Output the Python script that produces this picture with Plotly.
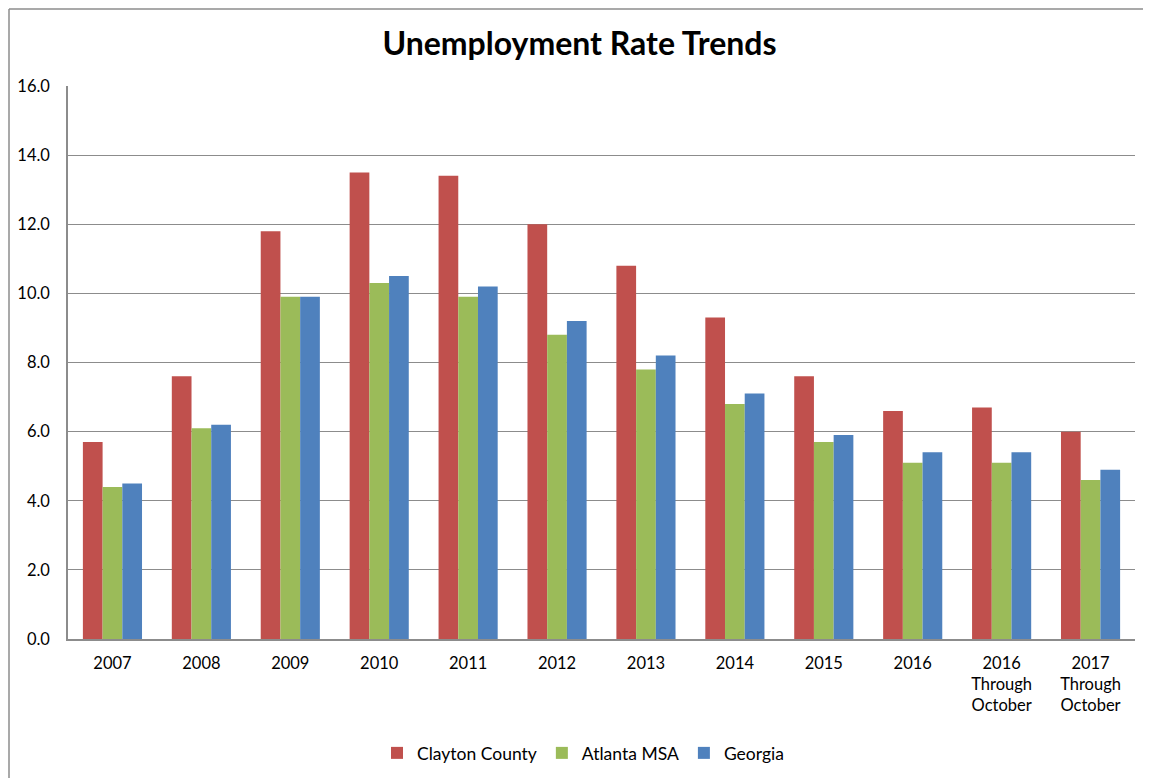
import plotly.graph_objects as go

categories = ["2007", "2008", "2009", "2010", "2011", "2012", "2013", "2014", "2015", "2016",
              "2016<br>Through<br>October", "2017<br>Through<br>October"]
clayton = [5.7, 7.6, 11.8, 13.5, 13.4, 12.0, 10.8, 9.3, 7.6, 6.6, 6.7, 6.0]
atlanta = [4.4, 6.1, 9.9, 10.3, 9.9, 8.8, 7.8, 6.8, 5.7, 5.1, 5.1, 4.6]
georgia = [4.5, 6.2, 9.9, 10.5, 10.2, 9.2, 8.2, 7.1, 5.9, 5.4, 5.4, 4.9]

series = [("Clayton County", clayton, "#C0504D"),
          ("Atlanta MSA", atlanta, "#9BBB59"),
          ("Georgia", georgia, "#4F81BD")]

# page body adds an 8px offset; figure sized to fit the window
OFF = 8
W, H = 1151 - OFF, 778 - OFF
ml, mt = 68 - OFF, 86 - OFF
mr = W - (1135 - OFF)
mb = H - (639 - OFF)

fig = go.Figure()
for name, vals, col in series:
    fig.add_trace(go.Bar(x=categories, y=vals, name=name, marker_color=col, marker_line_width=0))

font = "Lato, Open Sans, sans-serif"
pw, ph = W - ml - mr, H - mt - mb
bx0 = (1 - ml) / pw
bx1 = (W - ml) / pw
by0 = -(H - mt - ph) / ph
by1 = 1 + (mt - 1) / ph
border = dict(color="#8c8c8c", width=1.5)
fig.add_shape(type="line", xref="paper", yref="paper", x0=bx0, x1=bx1, y0=by1, y1=by1,
              line=border, layer="below")
fig.add_shape(type="line", xref="paper", yref="paper", x0=bx0, x1=bx0, y0=by0, y1=by1,
              line=border, layer="below")

fig.update_layout(
    width=W, height=H,
    margin=dict(l=ml, r=mr, t=mt, b=mb, autoexpand=False),
    paper_bgcolor="white", plot_bgcolor="white",
    barmode="group", bargap=0.335, bargroupgap=0,
    title=dict(text="<b>Unemployment Rate Trends</b>", x=0.5, xanchor="center",
               y=1 - (44 - OFF) / H, yanchor="middle",
               font=dict(family=font, size=32, color="black")),
    font=dict(family=font, size=16, color="black"),
    xaxis=dict(showline=True, linecolor="#8c8c8c", linewidth=1.5, ticks="",
               tickfont=dict(size=16.5), showgrid=False, automargin=False,
               ticklabelstandoff=8),
    yaxis=dict(range=[0, 16], dtick=2, tickformat=".1f", showgrid=True,
               gridcolor="#8c8c8c", gridwidth=1, showline=True, linecolor="#8c8c8c",
               linewidth=1.5, ticks="", tickfont=dict(size=16.5), zeroline=False,
               automargin=False, ticklabelstandoff=13),
    legend=dict(orientation="h", x=(583 - 68) / 1067, xanchor="center",
                y=-(753 - OFF - mt - ph) / ph,
                yanchor="middle", font=dict(size=17.5), traceorder="normal",
                itemwidth=30),
)

fig.write_html("out.html")
